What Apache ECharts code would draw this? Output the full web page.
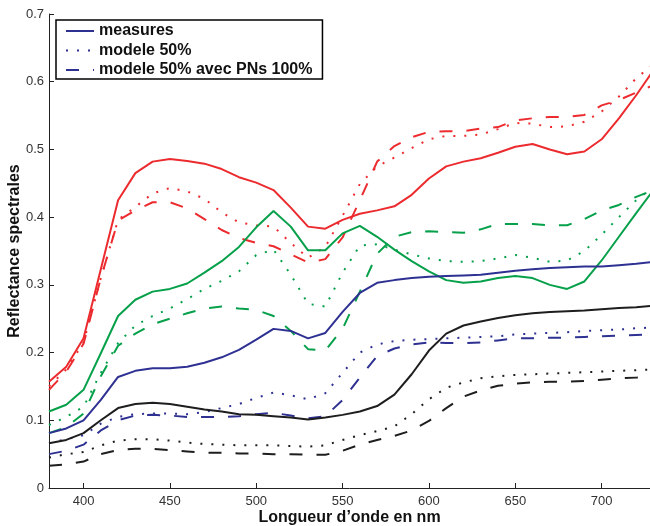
<!DOCTYPE html>
<html>
<head>
<meta charset="utf-8">
<script src="https://cdn.jsdelivr.net/npm/echarts@6/dist/echarts.min.js"></script>
<style>
  html, body { margin: 0; padding: 0; background: #fff; }
  #chart { width: 650px; height: 526px; }
</style>
</head>
<body>
<div id="chart"></div>
<script>
// longueurs d'onde (nm)
var wavelengths = [380,390,400,410,420,430,440,450,460,470,480,490,500,510,520,530,540,550,560,570,580,590,600,610,620,630,640,650,660,670,680,690,700,710,720,730];
var xTicks = [400,450,500,550,600,650,700];

// rouge
var redMeasures = [0.157,0.179,0.221,0.323,0.425,0.465,0.482,0.486,0.483,0.479,0.471,0.459,0.451,0.440,0.414,0.386,0.383,0.396,0.405,0.410,0.416,0.433,0.457,0.475,0.482,0.487,0.495,0.504,0.508,0.500,0.493,0.497,0.515,0.546,0.580,0.617];
var redModele = [0.150,0.175,0.215,0.310,0.396,0.415,0.435,0.443,0.438,0.427,0.407,0.392,0.388,0.386,0.362,0.340,0.356,0.402,0.449,0.475,0.488,0.502,0.515,0.520,0.520,0.522,0.530,0.539,0.538,0.533,0.534,0.541,0.556,0.578,0.605,0.626];
var redPNs = [0.145,0.172,0.213,0.310,0.395,0.410,0.422,0.422,0.413,0.397,0.381,0.369,0.362,0.357,0.345,0.333,0.338,0.370,0.425,0.482,0.505,0.518,0.526,0.527,0.527,0.531,0.533,0.543,0.546,0.548,0.548,0.551,0.565,0.573,0.584,0.595];

// vert
var greenMeasures = [0.113,0.123,0.145,0.199,0.254,0.278,0.290,0.294,0.302,0.318,0.335,0.356,0.385,0.409,0.386,0.351,0.351,0.376,0.387,0.371,0.352,0.335,0.320,0.307,0.303,0.305,0.310,0.313,0.310,0.300,0.294,0.305,0.336,0.371,0.406,0.440];
var greenModele = [0.093,0.105,0.120,0.170,0.214,0.240,0.254,0.265,0.279,0.294,0.306,0.320,0.344,0.352,0.315,0.272,0.268,0.318,0.358,0.360,0.352,0.345,0.339,0.335,0.334,0.335,0.339,0.344,0.340,0.334,0.336,0.350,0.374,0.400,0.425,0.445];
var greenPNs = [0.081,0.090,0.110,0.165,0.210,0.228,0.242,0.250,0.258,0.265,0.268,0.265,0.263,0.254,0.232,0.205,0.203,0.235,0.290,0.346,0.371,0.378,0.379,0.378,0.377,0.382,0.390,0.390,0.390,0.388,0.388,0.397,0.410,0.418,0.430,0.440];

// bleu
var blueMeasures = [0.081,0.088,0.100,0.130,0.164,0.173,0.177,0.177,0.179,0.185,0.193,0.204,0.219,0.235,0.232,0.221,0.229,0.260,0.288,0.303,0.307,0.310,0.312,0.313,0.314,0.315,0.318,0.321,0.323,0.325,0.326,0.327,0.327,0.329,0.331,0.334];
var blueModele = [0.066,0.072,0.078,0.095,0.105,0.109,0.110,0.110,0.109,0.112,0.118,0.124,0.133,0.141,0.137,0.131,0.140,0.170,0.200,0.212,0.217,0.219,0.220,0.221,0.222,0.223,0.224,0.227,0.228,0.229,0.230,0.232,0.233,0.234,0.236,0.237];
var bluePNs = [0.050,0.055,0.064,0.085,0.100,0.107,0.108,0.107,0.105,0.105,0.105,0.106,0.109,0.111,0.107,0.103,0.106,0.130,0.163,0.195,0.206,0.212,0.215,0.214,0.214,0.215,0.218,0.221,0.221,0.222,0.222,0.223,0.224,0.225,0.226,0.227];

// noir
var blackMeasures = [0.066,0.071,0.081,0.100,0.118,0.124,0.126,0.124,0.120,0.116,0.113,0.109,0.108,0.106,0.104,0.101,0.104,0.108,0.113,0.121,0.138,0.168,0.203,0.228,0.240,0.246,0.251,0.255,0.258,0.260,0.261,0.262,0.264,0.266,0.267,0.269];
var blackModele = [0.045,0.050,0.053,0.063,0.070,0.072,0.072,0.070,0.067,0.065,0.064,0.063,0.063,0.063,0.062,0.061,0.063,0.071,0.078,0.084,0.091,0.109,0.131,0.148,0.156,0.162,0.165,0.167,0.168,0.169,0.170,0.171,0.172,0.173,0.174,0.175];
var blackPNs = [0.033,0.035,0.039,0.050,0.056,0.058,0.058,0.056,0.054,0.052,0.052,0.051,0.051,0.050,0.050,0.049,0.049,0.055,0.064,0.071,0.077,0.085,0.099,0.118,0.135,0.144,0.151,0.154,0.156,0.157,0.157,0.158,0.160,0.162,0.163,0.164];

var legendNames = ['measures', 'modele 50%', 'modele 50% avec PNs 100%'];

var RED = '#ec2b2f', GREEN = '#06a04a', BLUE = '#2e3192', BLACK = '#1e1e1e';
var DOT = [2, 9], DASH = [13, 14];
var FONT = 'Liberation Sans, Arial';

function pairs(vals) {
    return vals.map(function(v, i) { return [wavelengths[i], v]; });
}

function mkLine(name, color, vals, type) {
    return {
        name: name,
        type: 'line',
        data: pairs(vals),
        symbol: 'none',
        animation: false,
        clip: true,
        lineStyle: { color: color, width: 2, type: type },
        itemStyle: { color: color }
    };
}

var chart = echarts.init(document.getElementById('chart'));

var option = {
    animation: false,
    // pas de recadrage automatique (v6): la grille reste où on la met
    grid: { left: 49, right: 0, top: 14, bottom: 38, containLabel: false, outerBoundsMode: 'none' },
    legend: {
        data: legendNames,
        orient: 'vertical',
        left: 56,
        top: 20,
        itemWidth: 28,
        itemHeight: 16,
        itemGap: 3.5,
        padding: [3, 10, 1, 9],
        borderColor: '#000',
        borderWidth: 1.5,
        backgroundColor: '#fff',
        itemStyle: { opacity: 0 },
        textStyle: { fontFamily: FONT, fontSize: 16, fontWeight: 'bold', color: '#111' }
    },
    xAxis: {
        type: 'value',
        min: 380,
        max: 728,
        name: 'Longueur d’onde en nm',
        nameLocation: 'middle',
        nameGap: 22,
        nameMoveOverlap: false,
        nameTextStyle: { fontFamily: FONT, fontSize: 16, fontWeight: 'bold', color: '#111' },
        splitLine: { show: false },
        axisLine: { lineStyle: { color: '#222', width: 1 } },
        axisTick: { inside: true, length: 5, customValues: xTicks, lineStyle: { color: '#222' } },
        axisLabel: { customValues: xTicks, fontFamily: FONT, fontSize: 13, color: '#333', margin: 7 }
    },
    yAxis: {
        type: 'value',
        min: 0,
        max: 0.7,
        interval: 0.1,
        name: 'Reflectance spectrales',
        nameLocation: 'middle',
        nameGap: 26,
        nameMoveOverlap: false,
        nameTextStyle: { fontFamily: FONT, fontSize: 16, fontWeight: 'bold', color: '#111' },
        splitLine: { show: false },
        axisLine: { show: true, lineStyle: { color: '#222', width: 1 } },
        axisTick: { show: true, inside: true, length: 5, lineStyle: { color: '#222' } },
        axisLabel: { fontFamily: FONT, fontSize: 13, color: '#333', margin: 5 }
    },
    series: [
        mkLine('measures (rouge)', RED, redMeasures, 'solid'),
        mkLine('modele 50% (rouge)', RED, redModele, DOT),
        mkLine('PNs (rouge)', RED, redPNs, DASH),
        mkLine('measures (vert)', GREEN, greenMeasures, 'solid'),
        mkLine('modele 50% (vert)', GREEN, greenModele, DOT),
        mkLine('PNs (vert)', GREEN, greenPNs, DASH),
        mkLine(legendNames[0], BLUE, blueMeasures, 'solid'),
        mkLine(legendNames[1], BLUE, blueModele, DOT),
        mkLine(legendNames[2], BLUE, bluePNs, DASH),
        mkLine('measures (noir)', BLACK, blackMeasures, 'solid'),
        mkLine('modele 50% (noir)', BLACK, blackModele, DOT),
        mkLine('PNs (noir)', BLACK, blackPNs, DASH)
    ]
};

chart.setOption(option);
</script>
</body>
</html>
